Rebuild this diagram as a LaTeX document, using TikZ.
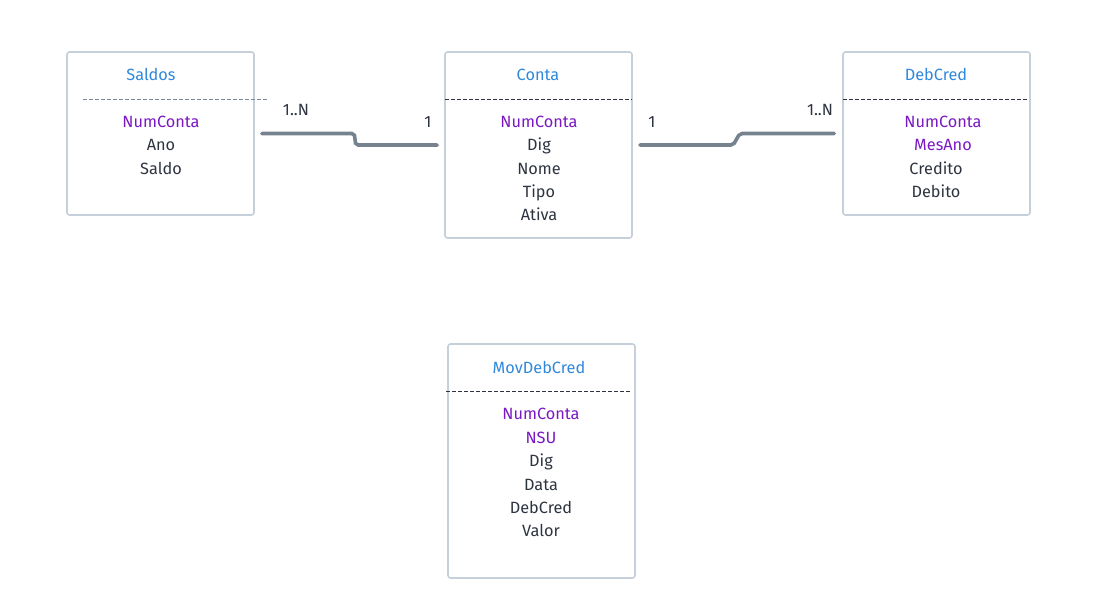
\documentclass[tikz,border=0pt]{standalone}
\usepackage{fontspec}
\setmainfont{Fira Sans}
\definecolor{ttl}{HTML}{2F88DB}
\definecolor{key}{HTML}{7A18C4}
\definecolor{txt}{HTML}{2D3440}
\definecolor{bord}{HTML}{C6D0DA}
\definecolor{conn}{HTML}{76838F}
\definecolor{dashg}{HTML}{7D8A96}
\tikzset{
  entity/.style={draw=bord, line width=1.6pt, rounded corners=2.5pt, minimum width=187pt, inner sep=0pt},
  txtbase/.style={font=\fontsize{16.3}{18}\selectfont, inner sep=0pt, text height=11.2pt, text depth=0pt},
  title/.style={txtbase, text=ttl},
  kfield/.style={txtbase, text=key},
  field/.style={txtbase, text=txt},
  lbl/.style={txtbase, text=txt},
  sep/.style={dash pattern=on 4pt off 2pt, line width=0.9pt},
  rel/.style={draw=conn, line width=3.6pt, line cap=round}
}
\begin{document}
\begin{tikzpicture}[x=1pt,y=-1pt]
\useasboundingbox (0,0) rectangle (1093,614);
% Saldos
\node[entity, minimum height=163pt] (saldos) at (160.5,133.5) {};
\node[title] (saldosT) at (151,75) {Saldos};
\draw[sep, draw=dashg] (83,99) -- (268,99);
\node[kfield] (s1) at (161,122) {NumConta};
\node[field] (s2) at (161,145) {Ano};
\node[field] (s3) at (161,169) {Saldo};
% Conta
\node[entity, minimum height=186pt] (conta) at (538.5,145) {};
\node[title] (contaT) at (538,75) {Conta};
\draw[sep, draw=txt] (445,99) -- (632,99);
\node[kfield] (c1) at (539,122) {NumConta};
\node[field] (c2) at (539,145) {Dig};
\node[field] (c3) at (539,169) {Nome};
\node[field] (c4) at (539,192) {Tipo};
\node[field] (c5) at (539,215) {Ativa};
% DebCred
\node[entity, minimum height=163pt] (debcred) at (936.5,133.5) {};
\node[title] (debcredT) at (936,75) {DebCred};
\draw[sep, draw=txt] (843,99) -- (1028,99);
\node[kfield] (d1) at (943,122) {NumConta};
\node[kfield] (d2) at (943,145) {MesAno};
\node[field] (d3) at (936,169) {Credito};
\node[field] (d4) at (936,192) {Debito};
% MovDebCred
\node[entity, minimum height=234pt] (mov) at (541.5,461) {};
\node[title] (movT) at (539,368) {MovDebCred};
\draw[sep, draw=txt] (446,391) -- (631,391);
\node[kfield] (m1) at (541,414) {NumConta};
\node[kfield] (m2) at (541,438) {NSU};
\node[field] (m3) at (541,461) {Dig};
\node[field] (m4) at (541,485) {Data};
\node[field] (m5) at (541,508) {DebCred};
\node[field] (m6) at (541,531) {Valor};
% connectors
\draw[rel] ([xshift=7pt]saldos.east) -- ++(90,0) .. controls ++(6,0) and ++(-6,0) .. ([xshift=-86pt]conta.west) -- ([xshift=-7pt]conta.west);
\draw[rel] ([xshift=7pt]conta.east) -- ++(91,0) .. controls ++(6,0) and ++(-6,0) .. ([xshift=-100pt]debcred.west) -- ([xshift=-8pt]debcred.west);
\node[lbl] (l1) at (296,110) {1..N};
\node[lbl] (l2) at (428,122) {1};
\node[lbl] (l3) at (652,122) {1};
\node[lbl] (l4) at (820,110) {1..N};
\end{tikzpicture}
\end{document}
